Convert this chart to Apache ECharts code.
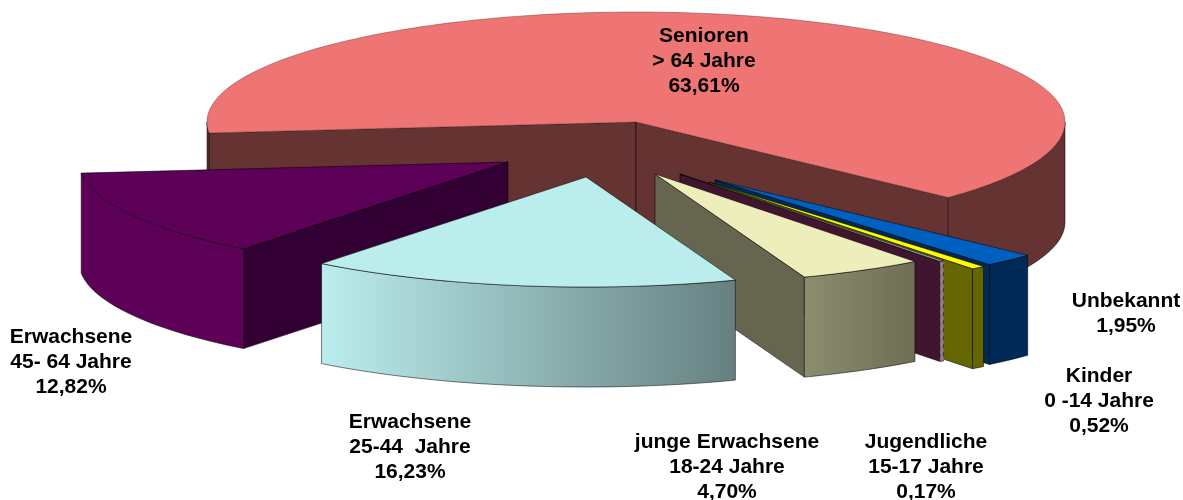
<!DOCTYPE html>
<html>
<head>
<meta charset="utf-8">
<title>Altersgruppen</title>
<script src="https://cdn.jsdelivr.net/npm/echarts@6/dist/echarts.min.js"></script>
<style>
html, body { margin: 0; padding: 0; background: #fff; }
#chart-container { width: 1183px; height: 500px; }
</style>
</head>
<body>
<div id="chart-container"></div>
<script>
// order follows the pie clockwise, starting with the big slice
var categories = ['Senioren', 'Unbekannt', 'Kinder', 'Jugendliche', 'junge Erwachsene', 'Erwachsene', 'Erwachsene'];
var ageRanges = ['> 64 Jahre', '', '0 -14 Jahre', '15-17 Jahre', '18-24 Jahre', '25-44  Jahre', '45- 64 Jahre'];
var values = [63.61, 1.95, 0.52, 0.17, 4.70, 16.23, 12.82];

// look of the slices
var topColors = ['#ef7575', '#0060c0', '#ffff00', '#a89ea2', '#eeeebb', '#bbeded', '#5c0058'];
var wallColors = ['#663333', '#002a55', '#666600', '#3f1530', '#666650', '#668080', '#330033'];
var rimLeft = ['#663333', '#002a55', '#666600', '#8a7d84', '#8c8c6e', '#bbeded', '#5c0058'];
var rimRight = ['#663333', '#002a55', '#666600', '#8a7d84', '#6e6e55', '#668080', '#5c0058'];
var explodeX = [0, 79, 73, 44, 19, -50, -128];
var explodeY = [0, 58, 60, 52, 52, 55, 40];
var drawOrder = [1, 2, 3, 4, 5, 7, 6];
var labelX = [704, 1126, 1099, 926, 727, 410, 71];
var labelY = [36, 301, 376, 442, 442, 422, 337];

var centerX = 636, centerY = 122, radiusX = 429, radiusY = 110, depth = 100;
var startAngle = 174.3;
var edge = 'rgba(0,0,0,0.65)';

var total = values.reduce(function (a, b) { return a + b; }, 0);
var sliceStart = [];
var running = 43.2;
// Senioren ends where Unbekannt starts, the rest run on from there
values.forEach(function (v, i) {
    if (i === 0) {
        sliceStart.push(startAngle);
    } else {
        sliceStart.push(running);
        running += v / total * 360;
    }
});

function rimPoint(ox, oy, deg, drop) {
    var r = deg * Math.PI / 180;
    return [ox + radiusX * Math.cos(r), oy + radiusY * Math.sin(r) + drop];
}

function arc(ox, oy, from, to, drop) {
    var pts = [];
    var n = Math.max(2, Math.ceil((to - from) / 1.5));
    for (var i = 0; i <= n; i++) {
        pts.push(rimPoint(ox, oy, from + (to - from) * i / n, drop));
    }
    return pts;
}

function wall(ox, oy, deg, color, z) {
    var p = rimPoint(ox, oy, deg, 0);
    return {
        type: 'polygon',
        z2: z,
        shape: { points: [[ox, oy], p, [p[0], p[1] + depth], [ox, oy + depth]] },
        style: { fill: color, stroke: edge, lineWidth: 0.8 }
    };
}

function rim(ox, oy, from, to, i, z) {
    var pts = arc(ox, oy, from, to, 0).concat(arc(ox, oy, from, to, depth).reverse());
    var thin = categories[i] === 'Jugendliche';
    return {
        type: 'polygon',
        z2: z,
        shape: { points: pts },
        style: {
            fill: new echarts.graphic.LinearGradient(0, 0, 1, 0, [
                { offset: 0, color: rimLeft[i] },
                { offset: 1, color: rimRight[i] }
            ]),
            stroke: thin ? '#3f1530' : edge,
            lineWidth: 0.8,
            lineDash: thin ? [4, 4] : null
        }
    };
}

function renderSlice(params, api) {
    var i = params.dataIndex;
    var ox = centerX + explodeX[i];
    var oy = centerY + explodeY[i];
    var a0 = sliceStart[i];
    var a1 = a0 + api.value(0) / total * 360;
    var z = drawOrder[i] * 10;
    var children = [];

    if (Math.cos(a0 * Math.PI / 180) < 0) children.push(wall(ox, oy, a0, wallColors[i], z));
    if (Math.cos(a1 * Math.PI / 180) > 0) children.push(wall(ox, oy, a1, wallColors[i], z));

    // only the part of the rim between 0 and 180 degrees faces the viewer
    if (a0 < 180) children.push(rim(ox, oy, a0, Math.min(a1, 180), i, z + 1));
    if (a1 > 360) children.push(rim(ox, oy, 360, a1, i, z + 1));

    children.push({
        type: 'polygon',
        z2: z + 2,
        shape: { points: [[ox, oy]].concat(arc(ox, oy, a0, a1, 0)) },
        style: { fill: topColors[i], stroke: i === 0 ? 'rgba(90,40,40,0.5)' : edge, lineWidth: 0.8 }
    });

    var lines = [categories[i]];
    if (ageRanges[i]) lines.push(ageRanges[i]);
    lines.push(api.value(0).toFixed(2).replace('.', ',') + '%');
    lines.forEach(function (line, k) {
        children.push({
            type: 'text',
            z2: 200,
            style: {
                text: line,
                x: labelX[i],
                y: labelY[i] + k * 25,
                fill: '#000',
                font: 'bold 21px "Liberation Sans", Arial, sans-serif',
                textAlign: 'center',
                textVerticalAlign: 'middle'
            }
        });
    });

    return { type: 'group', children: children };
}

var pieChart = echarts.init(document.getElementById('chart-container'));
pieChart.setOption({
    animation: false,
    backgroundColor: '#fff',
    series: [
        {
            type: 'custom',
            coordinateSystem: 'none',
            silent: true,
            renderItem: renderSlice,
            data: values
        }
    ]
});
window.addEventListener('resize', pieChart.resize);
</script>
</body>
</html>
